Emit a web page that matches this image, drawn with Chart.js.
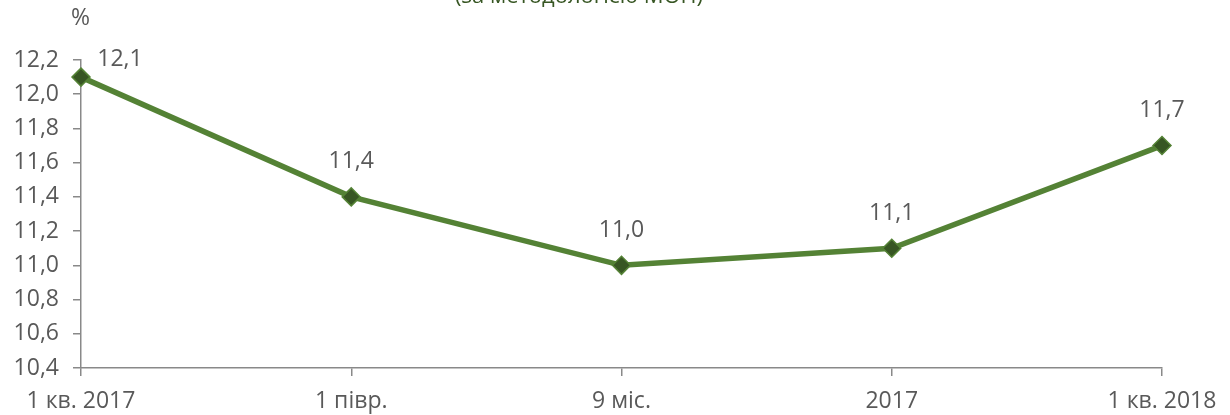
<!DOCTYPE html>
<html>
<head>
<meta charset="utf-8">
<script src="https://cdn.jsdelivr.net/npm/chart.js@4"></script>
<style>
  html, body { margin:0; padding:0; background:#fff; overflow:hidden; }
  #wrap { position:relative; width:1230px; height:415px; }
  #title { position:absolute; left:0; width:1158px; top:-19px; text-align:center; font-family:"Open Sans", sans-serif; font-size:22px; line-height:26px; color:#375623; }
  #unit { position:absolute; left:71px; top:1px; font-family:"Open Sans", sans-serif; font-size:23px; line-height:30px; color:#595959; }
</style>
</head>
<body>
<div id="wrap">
  <div id="title">(за методологією МОП)</div>
  <div id="unit">%</div>
  <canvas id="c" width="1230" height="415"></canvas>
</div>
<script>
const categories = ["1 кв. 2017", "1 півр.", "9 міс.", "2017", "1 кв. 2018"];
const values = [12.1, 11.4, 11.0, 11.1, 11.7];
const yMin = 10.4, yMax = 12.2, yStep = 0.2;

const fmt = v => v.toFixed(1).replace('.', ',');
const FONT = '"Open Sans", sans-serif';
const FS = 23;
const TXT = '#595959';
const AXIS = '#898989';

const labelPlugin = {
  id: 'pointLabels',
  afterDatasetsDraw(chart) {
    const ctx = chart.ctx;
    const meta = chart.getDatasetMeta(0);
    ctx.save();
    ctx.font = FS + 'px ' + FONT;
    ctx.fillStyle = TXT;
    ctx.textAlign = 'center';
    ctx.textBaseline = 'middle';
    meta.data.forEach((pt, i) => {
      let x = pt.x, y = pt.y - 35;
      if (i === 0) { x = pt.x + 39; y = pt.y - 18; }
      ctx.fillText(fmt(values[i]), x, y);
    });
    ctx.restore();
  }
};

new Chart(document.getElementById('c'), {
  type: 'line',
  data: {
    labels: categories,
    datasets: [{
      data: values,
      borderColor: '#548235',
      borderWidth: 5.5,
      tension: 0,
      pointStyle: 'rectRot',
      pointRadius: 9,
      pointHoverRadius: 9,
      pointBackgroundColor: '#375623',
      pointBorderColor: '#548235',
      pointBorderWidth: 1.5,
      clip: false
    }]
  },
  options: {
    responsive: false,
    animation: false,
    events: [],
    layout: { padding: { top: 60, right: 68, bottom: 0, left: 0 } },
    plugins: { legend: { display: false }, tooltip: { enabled: false }, title: { display: false } },
    scales: {
      x: {
        type: 'category',
        offset: false,
        border: { color: AXIS, width: 1.5 },
        grid: { display: true, drawOnChartArea: false, color: AXIS, lineWidth: 1.5, tickLength: 8 },
        ticks: { color: TXT, font: { family: FONT, size: FS }, padding: 12, maxRotation: 0, autoSkip: false },
        afterFit(scale) { scale.height = 47; scale.paddingLeft = 0; scale.paddingRight = 0; }
      },
      y: {
        min: yMin, max: yMax,
        border: { color: AXIS, width: 1.5 },
        grid: { display: true, drawOnChartArea: false, color: AXIS, lineWidth: 1.5, tickLength: 8 },
        ticks: { stepSize: yStep, color: TXT, font: { family: FONT, size: FS }, padding: 14, callback: v => fmt(v) },
        afterFit(scale) { scale.width = 81; }
      }
    }
  },
  plugins: [labelPlugin]
});
</script>
</body>
</html>
